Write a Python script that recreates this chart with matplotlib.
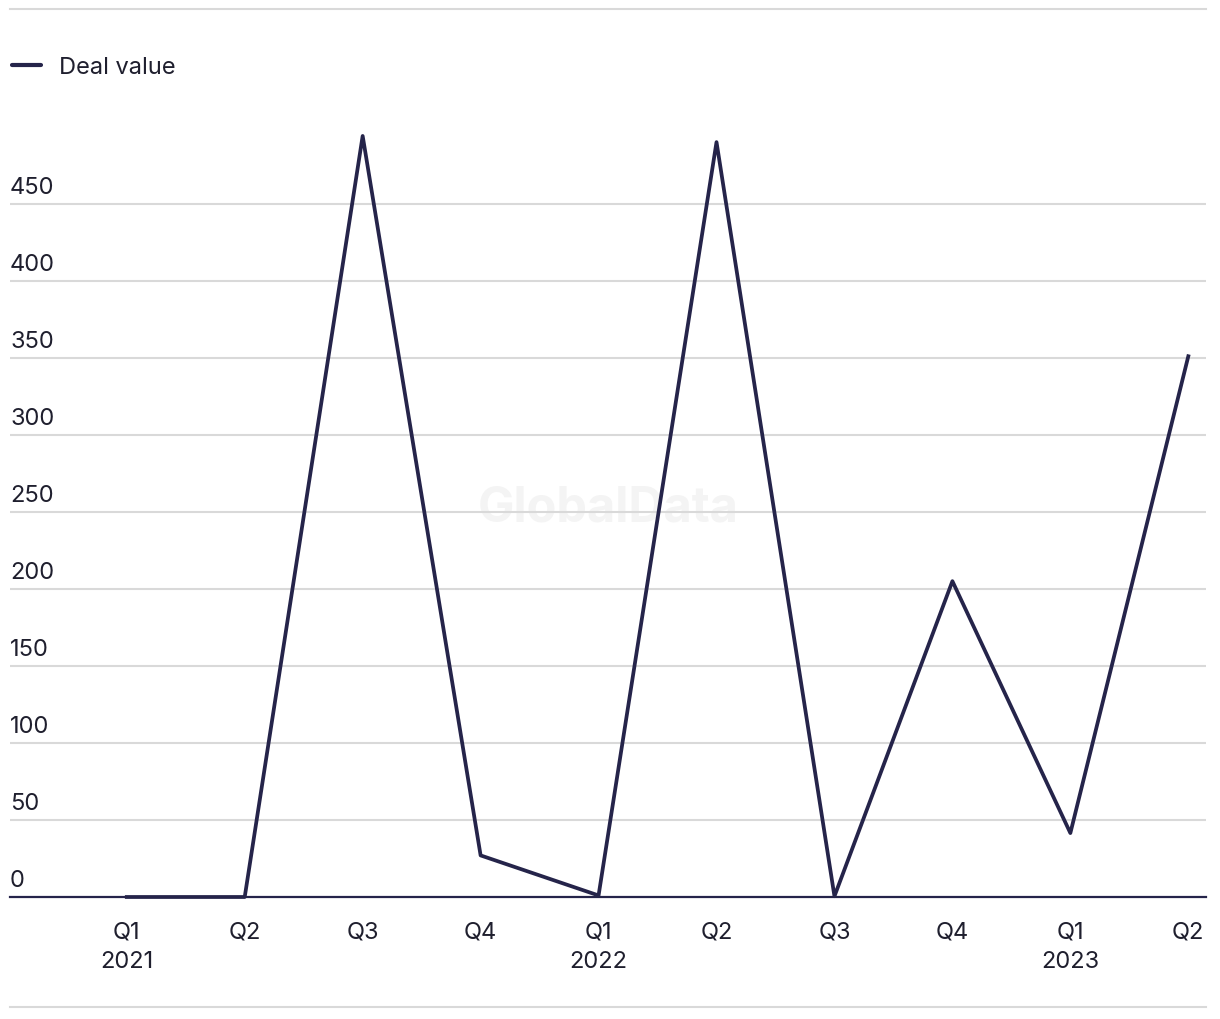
import matplotlib
matplotlib.use("Agg")
import matplotlib.pyplot as plt
from matplotlib.lines import Line2D
import matplotlib.transforms as mtransforms

quarters = ["Q1\n2021", "Q2", "Q3", "Q4", "Q1\n2022", "Q2", "Q3", "Q4", "Q1\n2023", "Q2"]
deal_value = [0, 0, 494, 27, 1, 490, 0.5, 205, 41.5, 351]
y_ticks = [0, 50, 100, 150, 200, 250, 300, 350, 400, 450]

line_color = "#25244a"
grid_color = "#d9d9d9"
text_color = "#1f1f2e"
plt.rcParams['font.family'] = ['Inter', 'DejaVu Sans']
FS = 17

fig = plt.figure(figsize=(12.2, 10.2), dpi=100)
W, H = 1220, 1020
ax = fig.add_axes([10 / W, 1 - 898 / H, (1206 - 10) / W, (898 - 120) / H])

x = list(range(len(quarters)))
ax.set_xlim(-0.99, 9.15)
ax.set_ylim(0, 505)

for v in y_ticks[1:]:
    ax.axhline(v, color=grid_color, lw=1.5, zorder=1)
ax.axhline(0, color=line_color, lw=1.6, zorder=2, clip_on=False)

ax.plot(x, deal_value, color=line_color, lw=2.7, zorder=3, clip_on=False)

for s in ax.spines.values():
    s.set_visible(False)
ax.set_yticks([])
ax.set_xticks(x)
ax.set_xticklabels(quarters, fontsize=FS, color=text_color, linespacing=1.45)
ax.tick_params(axis='x', length=0, pad=17)

trans = mtransforms.blended_transform_factory(ax.transAxes, ax.transData)
for v in y_ticks:
    ax.annotate(str(v), xy=(0, v), xycoords=trans, xytext=(0, 4),
                textcoords='offset points', ha='left', va='bottom',
                fontsize=FS, color=text_color)

# watermark
ax.text(0.5, 0.5, "GlobalData", transform=ax.transAxes, ha='center', va='center',
        fontsize=35, fontweight='bold', color='#f4f4f4', zorder=0)

# top and bottom rule lines
fig.add_artist(Line2D([10 / W, 1206 / W], [1 - 10 / H, 1 - 10 / H], color=grid_color, lw=1.5))
fig.add_artist(Line2D([10 / W, 1206 / W], [1 - 1008 / H, 1 - 1008 / H], color=grid_color, lw=1.5))

# legend
fig.add_artist(Line2D([12 / W, 41 / W], [1 - 66 / H, 1 - 66 / H], color=line_color, lw=3,
                      solid_capstyle='round'))
fig.text(59 / W, 1 - 68 / H, "Deal value", ha='left', va='center', fontsize=FS, color=text_color)

fig.savefig("out.png", dpi=100)
